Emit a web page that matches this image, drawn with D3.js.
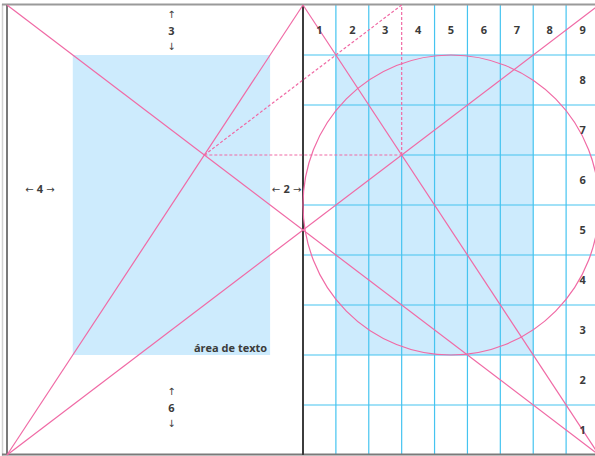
<!DOCTYPE html>
<html>
<head>
<meta charset="utf-8">
<script src="https://cdn.jsdelivr.net/npm/d3@7"></script>
<style>
  body { margin: 0; background: #fff; }
  svg text { font-family: "Open Sans", sans-serif; font-weight: 700; fill: #3b3b3b; }
  svg .arrow { font-family: "DejaVu Sans", sans-serif; font-weight: 400; }
</style>
</head>
<body>
<div id="chart"></div>
<script>
// spread measured in grid units: 18 columns wide, 9 rows high
let columnLabels = ['1', '2', '3', '4', '5', '6', '7', '8', '9'];
let rowLabels = ['1', '2', '3', '4', '5', '6', '7', '8'];

// text blocks [x0, y0, x1, y1] in units
let textBlocks = [[2, 1, 8, 7], [10, 1, 16, 7]];

// construction lines [x0, y0, x1, y1] in units
let solidLines = [[0, 0, 18, 9], [0, 9, 18, 0], [0, 9, 9, 0], [9, 0, 18, 9]];
let dashedLines = [[6, 3, 12, 3], [12, 3, 12, 0], [6, 3, 12, 0]];

// circle: centre and radius in units
let circleUnits = [13.5, 4, 4.5];

let width = 595, height = 456;

let x = d3.scaleLinear().domain([0, 18]).range([7, 599]);
let y = d3.scaleLinear().domain([0, 9]).range([5, 455]);

let svg = d3.select('#chart').append('svg')
  .attr('width', width).attr('height', height);

let pink = '#f06aa5';
let blue = '#45c4f0';

/// text area fills
svg.selectAll('.block')
  .data(textBlocks)
  .enter().append('rect')
  .attr('x', d => x(d[0])).attr('y', d => y(d[1]))
  .attr('width', d => x(d[2]) - x(d[0]))
  .attr('height', d => y(d[3]) - y(d[1]))
  .attr('fill', '#cdebfd');

/// grid on the right page, leaving room where the dashed lines run
let vGrid = d3.range(10, 18).map(function(u) {
  let start = 0;
  dashedLines.forEach(function(l) {
    if (l[0] === u && l[2] === u) start = Math.max(l[1], l[3]);
  });
  return [u, start, u, 9];
});
let hGrid = d3.range(1, 9).map(function(u) {
  let start = 9;
  dashedLines.forEach(function(l) {
    if (l[1] === u && l[3] === u) start = Math.max(l[0], l[2]);
  });
  return [start, u, 18, u];
});

svg.selectAll('.grid')
  .data(vGrid.concat(hGrid))
  .enter().append('line')
  .attr('x1', d => x(d[0])).attr('y1', d => y(d[1]))
  .attr('x2', d => x(d[2])).attr('y2', d => y(d[3]))
  .attr('stroke', blue).attr('stroke-width', 1.2);

/// page frame
svg.append('line').attr('x1', 2.5).attr('y1', 4).attr('x2', 2.5).attr('y2', 456)
  .attr('stroke', '#d2d2d2').attr('stroke-width', 1.5);
svg.append('line').attr('x1', 2).attr('y1', 4.5).attr('x2', width).attr('y2', 4.5)
  .attr('stroke', '#9a9a9a').attr('stroke-width', 2);
svg.append('line').attr('x1', x(0)).attr('y1', 5).attr('x2', x(0)).attr('y2', 455)
  .attr('stroke', '#7a7a7a').attr('stroke-width', 2);
svg.append('line').attr('x1', 2).attr('y1', 454.5).attr('x2', width).attr('y2', 454.5)
  .attr('stroke', '#7a7a7a').attr('stroke-width', 2);
svg.append('line').attr('x1', x(9)).attr('y1', 5).attr('x2', x(9)).attr('y2', 455)
  .attr('stroke', '#3c3c3c').attr('stroke-width', 2);

/// circle
svg.append('ellipse')
  .attr('cx', x(circleUnits[0])).attr('cy', y(circleUnits[1]))
  .attr('rx', x(circleUnits[2]) - x(0)).attr('ry', y(3) - y(0))
  .attr('fill', 'none').attr('stroke', pink).attr('stroke-width', 1.2);

/// construction lines
svg.selectAll('.solid')
  .data(solidLines)
  .enter().append('line')
  .attr('x1', d => x(d[0])).attr('y1', d => y(d[1]))
  .attr('x2', d => x(d[2])).attr('y2', d => y(d[3]))
  .attr('stroke', pink).attr('stroke-width', 1.2);

svg.selectAll('.dashed')
  .data(dashedLines)
  .enter().append('line')
  .attr('x1', d => x(d[0])).attr('y1', d => y(d[1]))
  .attr('x2', d => x(d[2])).attr('y2', d => y(d[3]))
  .attr('stroke', pink).attr('stroke-width', 1.2)
  .attr('stroke-dasharray', '3,2');

/// column and row numbers
svg.selectAll('.col')
  .data(columnLabels)
  .enter().append('text')
  .attr('x', (d, i) => x(9.5 + i)).attr('y', y(0.5) + 4)
  .attr('text-anchor', 'middle').attr('font-size', 11)
  .text(d => d);

svg.selectAll('.row')
  .data(rowLabels)
  .enter().append('text')
  .attr('x', x(17.5)).attr('y', (d, i) => y(8.5 - i) + 4)
  .attr('text-anchor', 'middle').attr('font-size', 11)
  .text(d => d);

/// margin labels on the left page
function vLabel(u, yTop, txt) {
  let g = svg.append('g').attr('text-anchor', 'middle');
  g.append('text').attr('class', 'arrow').attr('x', x(u)).attr('y', yTop).attr('font-size', 10).text('↑');
  g.append('text').attr('x', x(u)).attr('y', yTop + 17).attr('font-size', 11).text(txt);
  g.append('text').attr('class', 'arrow').attr('x', x(u)).attr('y', yTop + 32).attr('font-size', 10).text('↓');
}
vLabel(5, 18, '3');
vLabel(5, 395, '6');

function hLabel(u, txt) {
  let t = svg.append('text').attr('x', x(u)).attr('y', 193)
    .attr('text-anchor', 'middle').attr('font-size', 11);
  t.append('tspan').attr('class', 'arrow').attr('font-size', 10).text('← ');
  t.append('tspan').text(txt);
  t.append('tspan').attr('class', 'arrow').attr('font-size', 10).text(' →');
}
hLabel(1, '4');
hLabel(8.5, '2');

svg.append('text').attr('x', x(8) - 3).attr('y', y(7) - 3)
  .attr('text-anchor', 'end').attr('font-size', 11)
  .text('área de texto');
</script>
</body>
</html>
